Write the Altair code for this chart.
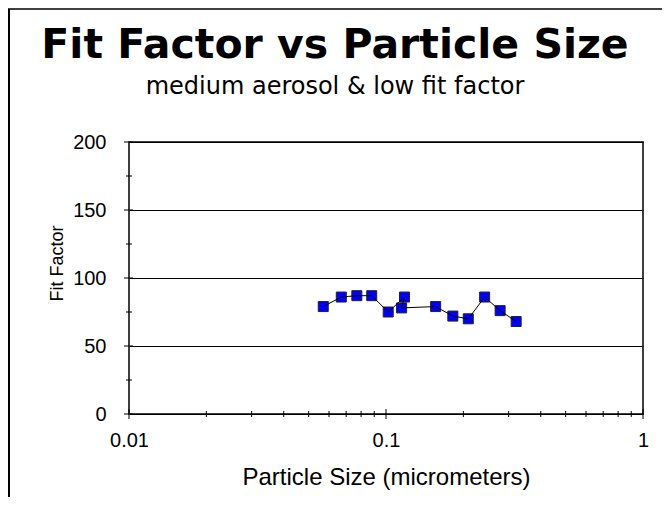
import altair as alt
import pandas as pd

# ---- data ----
particle_size = [0.057, 0.067, 0.077, 0.088, 0.102, 0.118, 0.115, 0.156, 0.182, 0.209, 0.242, 0.278, 0.321]
fit_factor = [79, 86, 87, 87, 75, 86, 78, 79, 72, 70, 86, 76, 68]

y_major = [0, 50, 100, 150, 200]
y_minor = [25, 75, 125, 175]
x_major = [0.01, 0.1, 1]
x_minor = [0.02, 0.03, 0.04, 0.05, 0.06, 0.07, 0.08, 0.09,
           0.2, 0.3, 0.4, 0.5, 0.6, 0.7, 0.8, 0.9]

title_text = "Fit Factor vs Particle Size"
subtitle_text = "medium aerosol & low fit factor"
x_title = "Particle Size (micrometers)"
y_title = "Fit Factor"

FONT = "DejaVu Sans"
AFONT = "Liberation Sans"
W, H = 514, 272
PAD_L, PAD_T, PAD_R, PAD_B = 121, 134, 19, 83

pts = pd.DataFrame({"i": list(range(len(particle_size))),
                    "size": particle_size, "ff": fit_factor})

xs = alt.Scale(type="log", domain=[0.01, 1])
ys = alt.Scale(domain=[0, 200], nice=False)

xax = alt.Axis(
    title=x_title, values=x_major, format="~g", grid=False, ticks=False,
    domain=False, labelPadding=16, labelFont=AFONT, labelFontSize=20,
    labelColor="black", titleFont=AFONT, titleFontSize=24,
    titleFontWeight="normal", titleColor="black", titleY=63,
    titleBaseline="middle", labelFlush=False)
yax = alt.Axis(
    title=y_title, values=y_major, grid=True, gridColor="black",
    gridOpacity=1, gridWidth=1, ticks=False, domain=False,
    labelPadding=23, labelFont=AFONT, labelFontSize=20, labelColor="black",
    titleFont=AFONT, titleFontSize=18, titleFontWeight="normal",
    titleColor="black", titleX=-72, titleY=121, titleBaseline="middle",
    titleAlign="center")

points = alt.Chart(pts).mark_point(
    shape="square", filled=True, fill="#0000FF", stroke="#222222",
    strokeWidth=1, opacity=1, size=100
).encode(
    x=alt.X("size:Q", scale=xs, axis=xax),
    y=alt.Y("ff:Q", scale=ys, axis=yax),
)

line = alt.Chart(pts).mark_line(color="black", strokeWidth=1).encode(
    x=alt.X("size:Q", scale=xs, axis=xax),
    y=alt.Y("ff:Q", scale=ys, axis=yax),
    order="i:Q",
)

ymaj = alt.Chart(pd.DataFrame({"v": y_major})).mark_rule(color="black", strokeWidth=1).encode(
    y=alt.Y("v:Q", scale=ys, axis=yax), x=alt.value(-5), x2=alt.value(4))
ymin = alt.Chart(pd.DataFrame({"v": y_minor})).mark_rule(color="black", strokeWidth=1).encode(
    y=alt.Y("v:Q", scale=ys, axis=yax), x=alt.value(-3), x2=alt.value(3))
xmaj = alt.Chart(pd.DataFrame({"v": x_major})).mark_rule(color="black", strokeWidth=1).encode(
    x=alt.X("v:Q", scale=xs, axis=xax), y=alt.value(H - 5), y2=alt.value(H + 5))
xmin = alt.Chart(pd.DataFrame({"v": x_minor})).mark_rule(color="black", strokeWidth=1).encode(
    x=alt.X("v:Q", scale=xs, axis=xax), y=alt.value(H - 3), y2=alt.value(H + 3))

one = pd.DataFrame({"a": [0]})
frame_left = alt.Chart(one).mark_rule(color="black", strokeWidth=2).encode(
    x=alt.value(-PAD_L + 1), y=alt.value(-PAD_T + 1), y2=alt.value(H + PAD_B))
frame_top = alt.Chart(one).mark_rule(color="black", strokeWidth=1.5).encode(
    x=alt.value(-PAD_L), x2=alt.value(W + PAD_R), y=alt.value(-PAD_T + 1))

title = alt.Chart(one).mark_text(
    font=FONT, fontSize=41, fontWeight="bold", color="black",
    align="center", baseline="alphabetic"
).encode(x=alt.value(206), y=alt.value(-84), text=alt.value(title_text))
subtitle = alt.Chart(one).mark_text(
    font=FONT, fontSize=24, color="black",
    align="center", baseline="alphabetic"
).encode(x=alt.value(206), y=alt.value(-48), text=alt.value(subtitle_text))

chart = alt.layer(
    points, line, ymaj, ymin, xmaj, xmin, frame_left, frame_top, title, subtitle
).properties(
    width=W, height=H,
    autosize=alt.AutoSizeParams(type="none"),
    padding={"left": PAD_L, "top": PAD_T, "right": PAD_R, "bottom": PAD_B},
    background="white",
).configure_view(stroke="black", strokeWidth=1.5)

chart.save("out.html", embed_options={"renderer": "svg", "actions": False})
